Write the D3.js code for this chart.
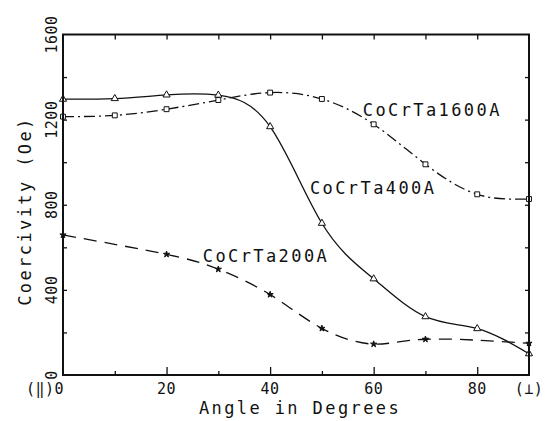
<!DOCTYPE html>
<html>
<head>
<meta charset="utf-8">
<script src="https://cdn.jsdelivr.net/npm/d3@7"></script>
<style>
  body { margin: 0; background: #fff; }
  svg { display: block; }
  text { font-family: "DejaVu Sans Mono", "Liberation Mono", monospace; fill: #111; }
  .tick-label { font-size: 15px; letter-spacing: 0.5px; }
  .title { font-size: 17px; letter-spacing: 2.4px; }
  .curve-label { font-size: 17px; letter-spacing: 2.4px; }
</style>
</head>
<body>
<svg width="548" height="421"></svg>
<script>
// angles in degrees (0 = parallel, 90 = perpendicular)
var angles = [0, 10, 20, 30, 40, 50, 60, 70, 80, 90];
var hc400 = [1296, 1299, 1316, 1315, 1167, 713, 452, 274, 218, 100];
var hc1600 = [1214, 1220, 1249, 1292, 1327, 1297, 1178, 990, 849, 827];
var angles200 = [0, 20, 30, 40, 50, 60, 70, 90];
var hc200 = [658, 567, 497, 378, 219, 145, 168, 149];

var yTicks = [0, 400, 800, 1200, 1600];
var xTickLabels = [0, 20, 40, 60, 80, 90];

var svg = d3.select("svg"),
    plotL = 63, plotR = 529, plotT = 34.5, plotB = 375;

var x = d3.scaleLinear().domain([0, 90]).range([plotL, plotR]);
var y = d3.scaleLinear().domain([0, 1600]).range([plotB, plotT]);

var series = [
  { name: "CoCrTa400A", xs: angles, ys: hc400, dash: null, symbol: d3.symbolTriangle, size: 22, fill: "none",
    label: [47.7, 850] },
  { name: "CoCrTa1600A", xs: angles, ys: hc1600, dash: "11,4,2,4", symbol: d3.symbolSquare, size: 24, fill: "none",
    label: [57.9, 1216] },
  { name: "CoCrTa200A", xs: angles200, ys: hc200, dash: "13,8", symbol: d3.symbolStar, size: 12, fill: "#111",
    label: [27.0, 531] }
];

var line = d3.line()
    .x(d => x(d[0]))
    .y(d => y(d[1]))
    .curve(d3.curveNatural);

series.forEach(s => {
  var pts = s.xs.map((a, i) => [a, s.ys[i]]);
  svg.append("path")
      .datum(pts)
      .attr("d", line)
      .attr("fill", "none")
      .attr("stroke", "#111")
      .attr("stroke-width", 1.3)
      .attr("stroke-dasharray", s.dash);

  svg.selectAll(null)
      .data(pts)
      .enter().append("path")
      .attr("transform", d => "translate(" + x(d[0]) + "," + y(d[1]) + ")")
      .attr("d", d3.symbol().type(s.symbol).size(s.size))
      .attr("fill", s.fill === "none" ? "#fff" : s.fill)
      .attr("stroke", "#111")
      .attr("stroke-width", 1);

  svg.append("text")
      .attr("class", "curve-label")
      .attr("x", x(s.label[0]))
      .attr("y", y(s.label[1]))
      .text(s.name);
});

// frame with inward ticks on all sides
var xAxisB = d3.axisBottom(x).tickValues(d3.range(10, 90, 10))
    .tickSizeInner(-4).tickSizeOuter(0).tickFormat("");
var xAxisT = d3.axisTop(x).tickValues(d3.range(10, 90, 10))
    .tickSizeInner(-5).tickSizeOuter(0).tickFormat("");
var yAxisL = d3.axisLeft(y).tickValues(d3.range(200, 1600, 200))
    .tickSizeInner(-4).tickSizeOuter(0).tickFormat("");
var yAxisR = d3.axisRight(y).tickValues(d3.range(200, 1600, 200))
    .tickSizeInner(-4).tickSizeOuter(0).tickFormat("");

var gb = svg.append("g").attr("transform", "translate(0," + plotB + ")").call(xAxisB);
gb.selectAll(".tick line").filter(d => d % 20 === 0).attr("y2", -8);
svg.append("g").attr("transform", "translate(0," + plotT + ")").call(xAxisT);
svg.append("g").attr("transform", "translate(" + plotL + ",0)").call(yAxisL);
svg.append("g").attr("transform", "translate(" + plotR + ",0)").call(yAxisR);

svg.selectAll(".domain").remove();
svg.selectAll(".tick line").attr("stroke", "#111").attr("stroke-width", 1.3);

svg.append("rect")
    .attr("x", plotL).attr("y", plotT)
    .attr("width", plotR - plotL).attr("height", plotB - plotT)
    .attr("fill", "none")
    .attr("stroke", "#111")
    .attr("stroke-width", 2);

// x tick labels
svg.selectAll(".xlab")
    .data(xTickLabels)
    .enter().append("text")
    .attr("class", "tick-label")
    .attr("x", d => d === 0 ? x(d) + 1 : x(d))
    .attr("y", 394)
    .attr("text-anchor", d => d === 0 ? "end" : "middle")
    .text(d => d === 0 ? "(\u2016)0" : d === 90 ? "(\u22A5)" : d);

// y tick labels, rotated
svg.selectAll(".ylab")
    .data(yTicks)
    .enter().append("text")
    .attr("class", "tick-label")
    .attr("transform", d => "translate(57," + y(d) + ") rotate(-90)")
    .attr("text-anchor", "middle")
    .text(d => d);

svg.append("text")
    .attr("class", "title")
    .attr("x", 300)
    .attr("y", 414)
    .attr("text-anchor", "middle")
    .text("Angle in Degrees");

svg.append("text")
    .attr("class", "title")
    .attr("transform", "translate(31,211) rotate(-90)")
    .attr("text-anchor", "middle")
    .text("Coercivity (Oe)");
</script>
</body>
</html>
